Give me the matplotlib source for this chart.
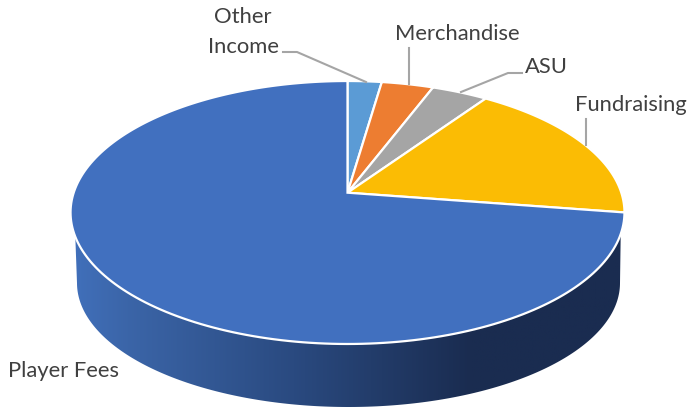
import numpy as np
import matplotlib
matplotlib.use('Agg')
import matplotlib.pyplot as plt
from matplotlib.colors import LinearSegmentedColormap
from matplotlib.patches import Polygon

# Values (percent), clockwise from 12 o'clock
categories = ['Other\nIncome', 'Merchandise', 'ASU', 'Fundraising', 'Player Fees']
shares = [2.3, 3.5, 3.8, 17.8, 72.6]
colors = ['#5B9BD5', '#ED7D31', '#A5A5A5', '#FBBC04', '#4170BF']

plt.rcParams['font.family'] = ['Lato', 'DejaVu Sans']

# Tilted disc, worked out from the picture (pixels)
apex_x, apex_y = 347.5, 192.7
tilt = 0.1506
scale_y = 128.5
scale_x = 273.8
bottom_x, bottom_y = 348.5, 283
bottom_rx, bottom_ry = 271.5, 124


def project(theta):
    # theta runs clockwise from the top of the disc
    u = np.sin(theta)
    v = np.cos(theta)
    w = 1 + tilt * v
    return apex_x + scale_x * u / w, apex_y - scale_y * v / w


fig = plt.figure(figsize=(6.88, 4.08), dpi=100)
ax = fig.add_axes([0, 0, 1, 1])
ax.set_xlim(0, 688)
ax.set_ylim(408, 0)
ax.axis('off')

# Side wall with the horizontal shading
t = np.linspace(np.pi / 2, 3 * np.pi / 2, 200)
wall_x = bottom_x + bottom_rx * np.sin(t)
wall_y = bottom_y - bottom_ry * np.cos(t)
t2 = np.linspace(3 * np.pi / 2, 2.5 * np.pi, 200)
top_x, top_y = project(t2)
wall = Polygon(np.column_stack([np.r_[wall_x, top_x], np.r_[wall_y, top_y]]),
               closed=True, facecolor='none', edgecolor='none', transform=ax.transData)
ax.add_patch(wall)
shade = LinearSegmentedColormap.from_list(
    'wall', [(0, '#4170BB'), (0.1, '#3B65A8'), (0.4, '#2A4A80'), (0.72, '#1A2C50'), (1, '#1A2C50')])
img = ax.imshow(np.linspace(0, 1, 256).reshape(1, -1), cmap=shade, aspect='auto',
                extent=(71, 627, 408, 190), zorder=1)
img.set_clip_path(wall)
ax.set_xlim(0, 688)
ax.set_ylim(408, 0)

# Slices
edges = np.r_[0, np.cumsum(shares)] / np.sum(shares) * 2 * np.pi
for start, end, color in zip(edges[:-1], edges[1:], colors):
    a = np.linspace(start, end, 200)
    x, y = project(a)
    ax.fill(np.r_[apex_x, x], np.r_[apex_y, y], facecolor=color, edgecolor='white',
            linewidth=1.6, joinstyle='miter', zorder=2)

# Leader lines
leaders = [
    ([283, 297, 366], [52, 52, 82]),
    ([409, 409], [48, 84]),
    ([522, 508, 461], [73, 73, 92]),
    ([586, 586], [119, 145]),
]
for lx, ly in leaders:
    ax.plot(lx, ly, color='#A5A5A5', linewidth=1.5, zorder=3)

# Labels
label_xy = [(243, 32), (457.5, 34), (546, 67), (631, 105), (64, 371)]
for name, (lx, ly) in zip(categories, label_xy):
    ax.text(lx, ly, name, ha='center', va='center', fontsize=15.8, color='#404040',
            linespacing=1.6, zorder=4)

fig.savefig('out.png', dpi=100)
